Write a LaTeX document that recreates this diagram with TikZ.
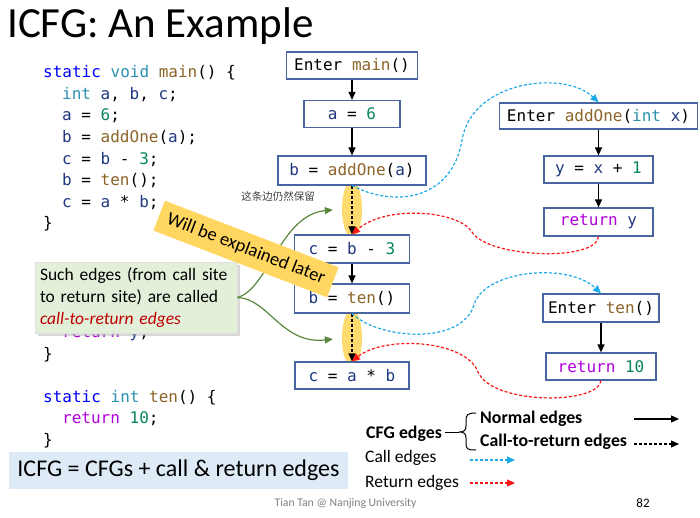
\documentclass[tikz,border=0pt]{standalone}
\usepackage{fontspec}
\setmainfont{Carlito}
\setmonofont{DejaVu Sans Mono}
\newfontfamily\cjk{Noto Sans CJK SC}
\usepackage{tikz}
\usetikzlibrary{arrows.meta,shapes.geometric,shadows}

\definecolor{kwblue}{RGB}{0,0,250}
\definecolor{tyblue}{RGB}{43,145,175}
\definecolor{fnbrown}{RGB}{140,100,40}
\definecolor{numgreen}{RGB}{9,134,88}
\definecolor{retpink}{RGB}{175,0,219}
\definecolor{varnavy}{RGB}{31,55,127}
\definecolor{boxline}{RGB}{72,101,160}
\definecolor{calblue}{RGB}{30,170,230}
\definecolor{retred}{RGB}{250,20,20}
\definecolor{hlyellow}{RGB}{255,214,95}
\definecolor{notegreen}{RGB}{226,239,217}
\definecolor{arrgreen}{RGB}{90,135,60}
\definecolor{sumblue}{RGB}{222,235,247}

\begin{document}
\begin{tikzpicture}[x=1pt,y=-1pt,
    codeln/.style={anchor=base west,inner sep=0pt,font=\ttfamily\fontsize{16}{19}\selectfont},
    blk/.style={draw=boxline,line width=1.2pt,fill=white,minimum height=27pt,inner sep=0pt,
      font=\ttfamily\fontsize{16}{19}\selectfont},
    tip/.style={-{Triangle[length=8pt,width=7pt]}},
    flow/.style={tip,line width=1.2pt},
    c2r/.style={tip,line width=1.2pt,dash pattern=on 3pt off 2pt},
    calle/.style={c2r,draw=calblue},
    rete/.style={c2r,draw=retred},
    hl/.style={ellipse,fill=hlyellow,opacity=0.9,minimum width=20pt,minimum height=57pt,inner sep=0pt},
    legtxt/.style={anchor=west,inner sep=0pt,font=\fontsize{17.5}{20}\selectfont}]
    \def\cKw#1{\textcolor{kwblue}{#1}}
    \def\cTy#1{\textcolor{tyblue}{#1}}
    \def\cFn#1{\textcolor{fnbrown}{#1}}
    \def\cNum#1{\textcolor{numgreen}{#1}}
    \def\cRet#1{\textcolor{retpink}{#1}}
    \def\cVar#1{\textcolor{varnavy}{#1}}
    \useasboundingbox (0,0) rectangle (700,518);
    %Title
    \node[anchor=base west,inner sep=0pt,font=\fontsize{43}{50}\selectfont] (title) at (7,38) {ICFG: An Example};
    %Code
    \node[codeln] (l1) at (43,78) {\cKw{static} \cTy{void} \cFn{main}() \{};
    \node[codeln] (l2) at (62,100) {\cTy{int} \cVar{a}, \cVar{b}, \cVar{c};};
    \node[codeln] (l3) at (62,121) {\cVar{a} = \cNum{6};};
    \node[codeln] (l4) at (62,143) {\cVar{b} = \cFn{addOne}(\cVar{a});};
    \node[codeln] (l5) at (62,165) {\cVar{c} = \cVar{b} - \cNum{3};};
    \node[codeln] (l6) at (62,186) {\cVar{b} = \cFn{ten}();};
    \node[codeln] (l7) at (62,208) {\cVar{c} = \cVar{a} * \cVar{b};};
    \node[codeln] (l8) at (43,229) {\}};
    \node[codeln] (l9) at (62,337) {\cRet{return} \cVar{y};};
    \node[codeln] (l10) at (43,359) {\}};
    \node[codeln] (l11) at (43,402) {\cKw{static} \cTy{int} \cFn{ten}() \{};
    \node[codeln] (l12) at (62,423) {\cRet{return} \cNum{10};};
    \node[codeln] (l13) at (43,445) {\}};
    %Highlights
    \node[hl] (e1) at (352,209) {};
    \node[hl] (e2) at (352,338) {};
    %main
    \node[blk,minimum width=131pt] (entMain) at (352,65.5) {Enter \cFn{main}()};
    \node[blk,minimum width=96pt] (asgA) at (352,114) {\cVar{a} = \cNum{6}};
    \node[blk,minimum width=148pt,minimum height=29pt] (bAdd) at (352,170.5) {\cVar{b} = \cFn{addOne}(\cVar{a})};
    \node[blk,minimum width=115pt,minimum height=28pt] (cSub) at (352,249) {\cVar{c} = \cVar{b} - \cNum{3}};
    \node[blk,minimum width=115pt,minimum height=29pt] (bTen) at (352,298.5) {\cVar{b} = \cFn{ten}()};
    \node[blk,minimum width=114pt] (cMul) at (352,375.5) {\cVar{c} = \cVar{a} * \cVar{b}};
    %addOne
    \node[blk,minimum width=198pt,minimum height=26pt] (entAdd) at (598.5,116) {Enter \cFn{addOne}(\cTy{int} \cVar{x})};
    \node[blk,minimum width=109pt] (yAsg) at (598.5,169.5) {\cVar{y} = \cVar{x} + \cNum{1}};
    \node[blk,minimum width=109pt,minimum height=28pt] (retY) at (598.5,222) {\cRet{return} \cVar{y}};
    %ten
    \node[blk,minimum width=116pt,minimum height=28pt] (entTen) at (601,308) {Enter \cFn{ten}()};
    \node[blk,minimum width=110pt] (ret10) at (601,366.5) {\cRet{return} \cNum{10}};
    %Normal edges
    \draw[flow] (entMain) -- (asgA);
    \draw[flow] (asgA) -- (bAdd);
    \draw[flow] (cSub) -- (bTen);
    \draw[flow] (entAdd) -- (yAsg);
    \draw[flow] (yAsg) -- (retY);
    \draw[flow] (entTen) -- (ret10);
    %Call-to-return edges
    \draw[c2r] (bAdd.south) -- (cSub.north);
    \draw[c2r] (bTen.south) -- (cMul.north);
    %Call edges
    \draw[calle] (bAdd.south) .. controls (395,208) and (452,200) .. (462,140)
      .. controls (472,80) and (565,70) .. (entAdd.north);
    \draw[calle] (bTen.south) .. controls (380,340) and (462,345) .. (474,305)
      .. controls (484,270) and (568,262) .. (entTen.north);
    %Return edges
    \draw[rete] (retY.south) .. controls (596,262) and (488,258) .. (472,232)
      .. controls (458,210) and (385,205) .. (cSub.north);
    \draw[rete] (ret10.south) .. controls (598,405) and (492,405) .. (478,372)
      .. controls (466,340) and (385,335) .. (cMul.north);
    %Note
    \node[font=\cjk\fontsize{10.5}{12}\selectfont,text=black!75,inner sep=0pt] (keep) at (278,196) {这条边仍然保留};
    \node[fill=notegreen,draw=black!12,drop shadow={shadow xshift=3pt,shadow yshift=-3pt,fill=black!30},
      minimum width=202pt,minimum height=71pt,text width=192pt,align=left,inner sep=0pt,
      font=\fontsize{17.5}{22}\selectfont] (note) at (136,297.5)
      {Such edges (from call site\\to return site) are called\\\textcolor{red!75!black}{\itshape call-to-return edges}};
    \draw[tip,arrgreen,line width=1.2pt,shorten >=9pt] (note.east) .. controls (268,290) and (280,215) .. (e1.west);
    \draw[tip,arrgreen,line width=1.2pt,shorten >=9pt] (note.east) .. controls (268,298) and (282,345) .. (e2.west);
    \node[fill=hlyellow,rotate=-21,minimum width=186pt,minimum height=32pt,inner sep=0pt,
      font=\fontsize{18.5}{21}\selectfont] (later) at (246,249) {Will be explained later};
    %Summary
    \node[fill=sumblue,minimum width=339pt,minimum height=37pt,inner sep=0pt,
      font=\fontsize{24}{28}\selectfont] (sum) at (178.5,470.5) {ICFG = CFGs + call \& return edges};
    %Legend
    \node[legtxt,font=\bfseries\fontsize{17.8}{20}\selectfont] (cfgE) at (366,434) {CFG edges};
    \node[legtxt,font=\bfseries\fontsize{17.8}{20}\selectfont] (normE) at (480,419) {Normal edges};
    \node[legtxt,font=\bfseries\fontsize{17.8}{20}\selectfont] (c2rE) at (480,442) {Call-to-return edges};
    \node[legtxt] (callE) at (365,458) {Call edges};
    \node[legtxt] (retE) at (365,483) {Return edges};
    \coordinate (cusp) at (459,432);
    \draw[line width=1pt] (476,413) .. controls (467,413) and (466,415) .. (466,421) -- (466,426)
      .. controls (466,431) and (463,432) .. (cusp) .. controls (463,432) and (466,433) .. (466,438)
      -- (466,443) .. controls (466,449) and (467,450) .. (476,450);
    \draw[line width=1pt] (cfgE.east) ++(3,-2) -- (cusp);
    \coordinate (n1) at (634,419); \coordinate (n2) at (679,419);
    \coordinate (r1) at (634,444); \coordinate (r2) at (679,444);
    \coordinate (k1) at (470,460); \coordinate (k2) at (515,460);
    \coordinate (t1) at (470,483); \coordinate (t2) at (515,483);
    \draw[tip,line width=1.2pt] (n1) -- (n2);
    \draw[c2r] (r1) -- (r2);
    \draw[calle] (k1) -- (k2);
    \draw[rete] (t1) -- (t2);
    %Footer
    \node[inner sep=0pt,text=black!50,font=\fontsize{11.7}{13}\selectfont] (author) at (345.5,503) {Tian Tan @ Nanjing University};
    \node[inner sep=0pt,font=\fontsize{13}{15}\selectfont] (page) at (643,503) {82};
\end{tikzpicture}
\end{document}
